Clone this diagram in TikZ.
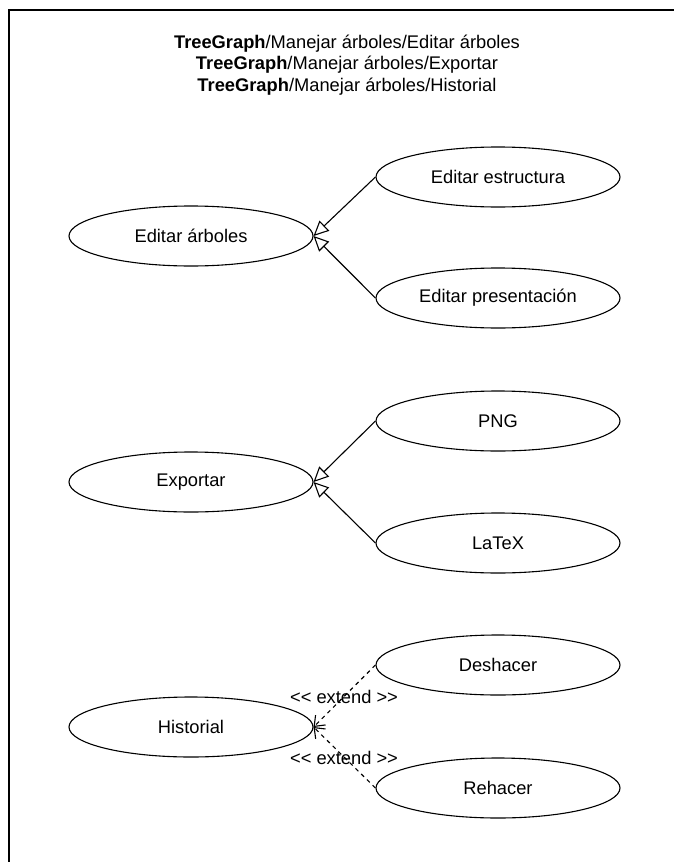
\documentclass[tikz,border=0pt]{standalone}
\usepackage{fontspec}
\setmainfont{Liberation Sans}
\usetikzlibrary{arrows.meta,shapes.geometric}
\begin{document}
\begin{tikzpicture}[x=1pt,y=-1pt,
  txt/.style={font=\fontsize{18.3}{21.5}\selectfont},
  usecase/.style={draw, line width=1.1pt, ellipse, minimum width=244pt, minimum height=60pt, inner sep=0pt, txt},
  gen/.style={draw, line width=1.1pt, -{Triangle[open,length=15pt,width=14pt]}},
  ext/.style={draw, line width=1.1pt, dash pattern=on 4pt off 4pt, -{Straight Barb[length=9pt,width=14pt]}},
  lbl/.style={txt, inner sep=0pt}]
\useasboundingbox (0,0) rectangle (673,862);
% page frame
\draw[line width=1.5pt] (9,870) -- (9,10) -- (680,10);
% header
\node[align=center, txt, inner sep=0pt] (title) at (347,65)
  {\textbf{TreeGraph}/Manejar árboles/Editar árboles\\
   \textbf{TreeGraph}/Manejar árboles/Exportar\\
   \textbf{TreeGraph}/Manejar árboles/Historial};
% use cases
\node[usecase] (editar) at (191,236) {Editar árboles};
\node[usecase] (estructura) at (498,177) {Editar estructura};
\node[usecase] (presentacion) at (498,298) {Editar presentación};
\node[usecase] (exportar) at (191,482) {Exportar};
\node[usecase] (png) at (498,421) {PNG};
\node[usecase] (latex) at (498,543) {LaTeX};
\node[usecase] (historial) at (191,727) {Historial};
\node[usecase] (deshacer) at (498,665) {Deshacer};
\node[usecase] (rehacer) at (498,788) {Rehacer};
% generalisation
\draw[gen] (estructura.west) -- (editar.east);
\draw[gen] (presentacion.west) -- (editar.east);
\draw[gen] (png.west) -- (exportar.east);
\draw[gen] (latex.west) -- (exportar.east);
% extensions
\draw[ext] (deshacer.west) -- (historial.east);
\draw[ext] (rehacer.west) -- (historial.east);
\node[lbl] (l1) at (344,697) {{<}{<} extend {>}{>}};
\node[lbl] (l2) at (344,758) {{<}{<} extend {>}{>}};
\end{tikzpicture}
\end{document}
